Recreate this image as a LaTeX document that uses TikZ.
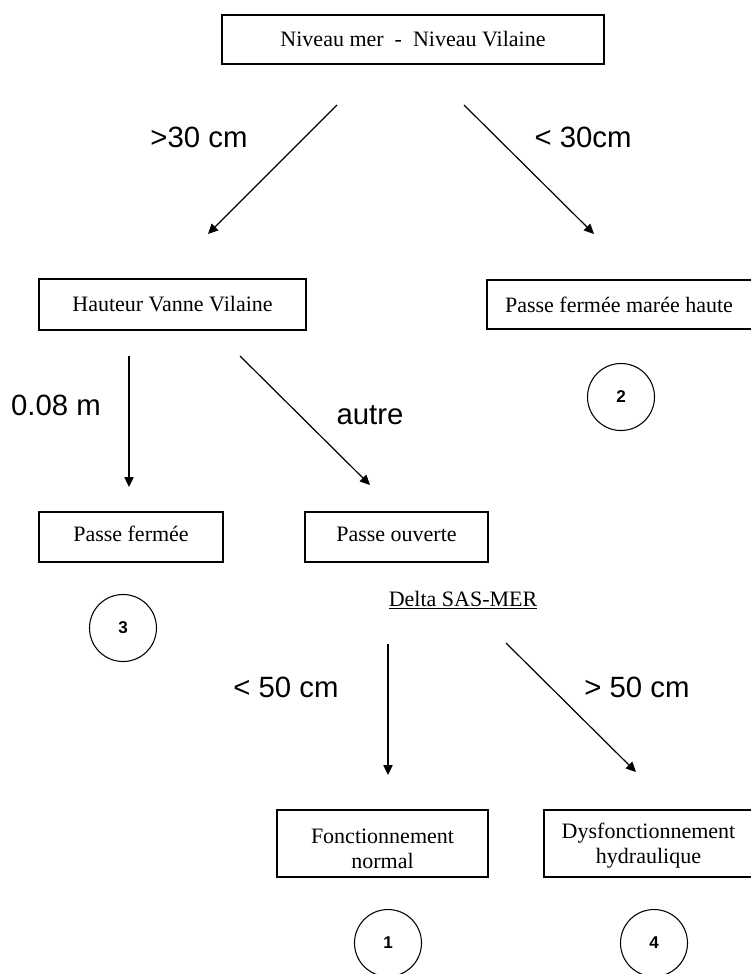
\documentclass[tikz,border=0pt]{standalone}
\usepackage{fontspec}
\setmainfont{Liberation Serif}
\newfontfamily\arialf{Liberation Sans}
\usetikzlibrary{arrows.meta}
\begin{document}
\begin{tikzpicture}[x=0.75pt,y=-0.75pt,
  box/.style={draw, line width=0.8pt, inner sep=0pt, align=center, font=\fontsize{16.5}{18.75}\selectfont},
  boxtxt/.style={font=\fontsize{16.5}{18.75}\selectfont, align=center, inner sep=0pt},
  lab/.style={font=\arialf\fontsize{22}{24}\selectfont, inner sep=0pt},
  num/.style={draw, circle, line width=0.8pt, minimum size=50.25pt, inner sep=0pt, font=\arialf\bfseries\fontsize{12.8}{14}\selectfont},
  arr/.style={line width=0.9pt, -{Triangle[length=7.5pt,width=7pt]}}]
\useasboundingbox (0,0) rectangle (750,974);

% boxes
\node[box, minimum width=286.5pt, minimum height=36.75pt] (top) at (413,39.5) {Niveau mer \ - \ Niveau Vilaine};
\node[box, minimum width=200.25pt, minimum height=38.25pt] (hvv) at (172.5,304.5) {Hauteur Vanne Vilaine};
% right-hand boxes run past the right edge of the picture
\node[box, minimum width=202.5pt, minimum height=36.75pt] (pfmh) at (622,304.5) {};
\node[boxtxt] (pfmht) at (619,304.5) {Passe fermée marée haute};
\node[box, minimum width=138pt, minimum height=37.5pt,
      label={[boxtxt, yshift=2pt]center:Passe fermée}] (pf) at (131,537) {};
\node[box, minimum width=137.25pt, minimum height=37.5pt,
      label={[boxtxt, yshift=2pt]center:Passe ouverte}] (po) at (396.5,537) {};
\node[box, minimum width=158.25pt, minimum height=50.25pt,
      label={[boxtxt, yshift=-4pt]center:Fonctionnement\\normal}] (fn) at (382.5,843.5) {};
\node[box, minimum width=160.5pt, minimum height=50.25pt] (dh) at (651,843.5) {};
\node[boxtxt] (dht) at (648.5,845.5) {Dysfonctionnement\\hydraulique};

% heading text
\node[boxtxt] (delta) at (463,600) {\underline{Delta SAS-MER}};

% circles
\node[num] (c2) at (621,397) {2};
\node[num] (c3) at (123,628) {3};
\node[num] (c1) at (388,943) {1};
\node[num] (c4) at (654,943) {4};

% arrow coordinates
\coordinate (a1s) at (337,105); \coordinate (a1e) at (208,234);
\coordinate (a2s) at (464,105); \coordinate (a2e) at (594,234);
\coordinate (a3s) at (129,356); \coordinate (a3e) at (129,487);
\coordinate (a4s) at (240,356); \coordinate (a4e) at (370,485);
\coordinate (a5s) at (388,644); \coordinate (a5e) at (388,775);
\coordinate (a6s) at (506,643); \coordinate (a6e) at (636,772);

\draw[arr] (a1s) -- (a1e);
\draw[arr] (a2s) -- (a2e);
\draw[arr] (a3s) -- (a3e);
\draw[arr] (a4s) -- (a4e);
\draw[arr] (a5s) -- (a5e);
\draw[arr] (a6s) -- (a6e);

% labels
\node[lab] (l1) at (199,137) {>30 cm};
\node[lab] (l2) at (583,137) {< 30cm};
\node[lab] (l3) at (56,405) {0.08 m};
\node[lab] (l4) at (370,415) {autre};
\node[lab] (l5) at (286,687) {< 50 cm};
\node[lab] (l6) at (637,687) {> 50 cm};
\end{tikzpicture}
\end{document}
